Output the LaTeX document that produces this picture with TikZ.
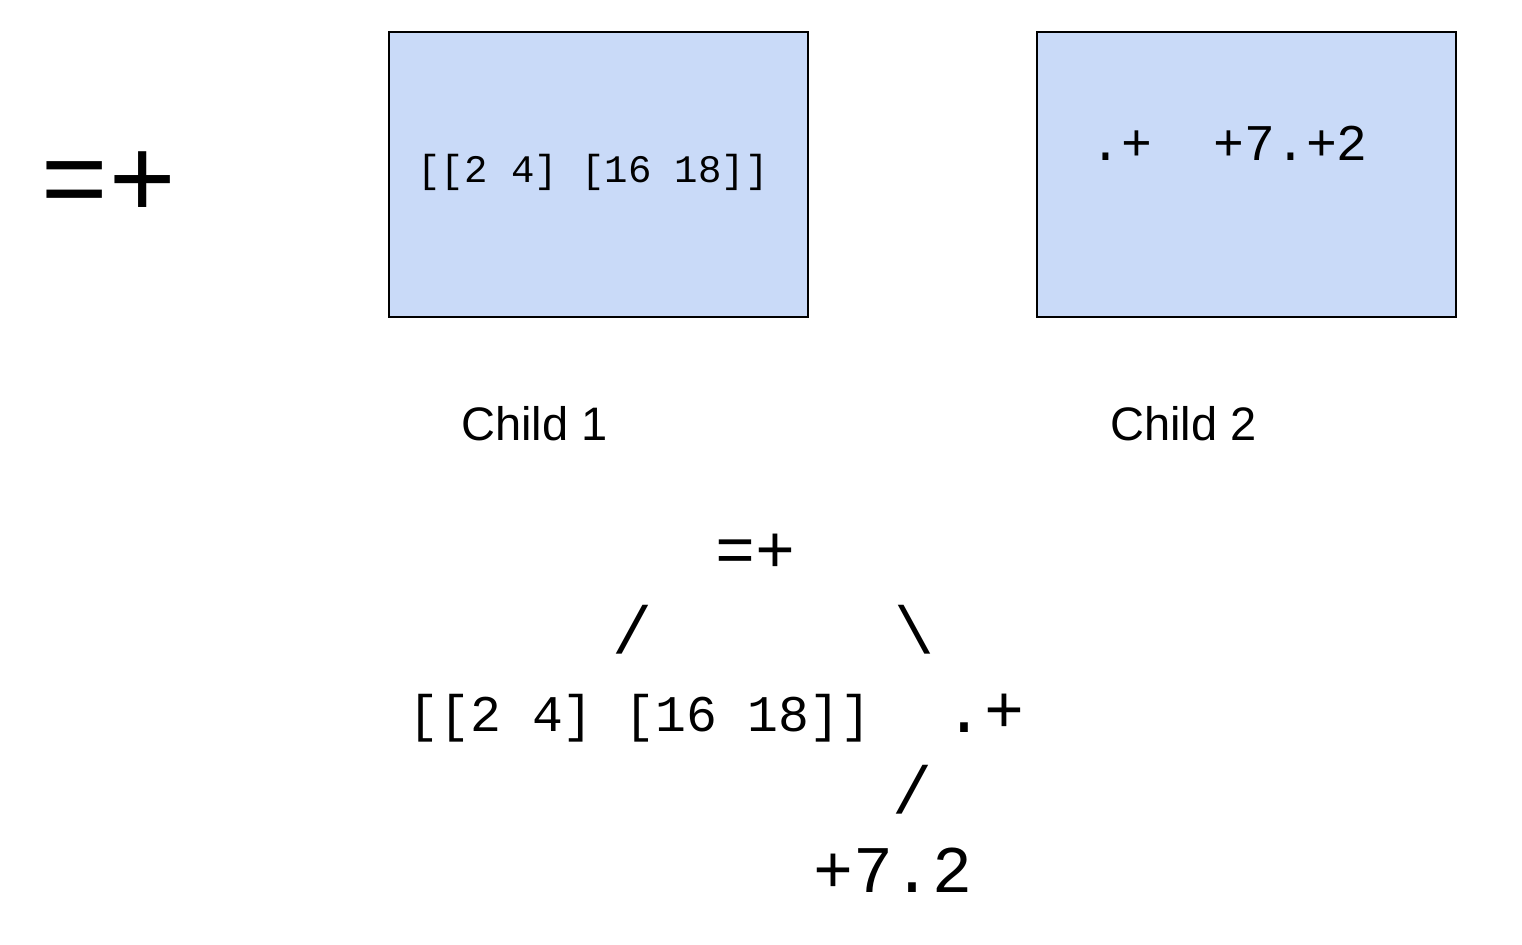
\documentclass[tikz,border=0pt]{standalone}
\usepackage{fontspec}
\setmainfont{Liberation Sans}
\newfontfamily\monofam{Liberation Mono}
\definecolor{boxfill}{HTML}{C9DAF8}
\tikzset{
  panel/.style={draw=black, line width=1pt, fill=boxfill, inner sep=0pt,
    minimum width=209.5pt, minimum height=142.5pt},
  txt/.style={inner sep=0pt, anchor=base},
  mono/.style={txt, font=\monofam\fontsize{#1}{#1}\selectfont},
  label/.style={txt, font=\fontsize{23.5}{28}\selectfont},
  slash/.style={inner sep=0pt, anchor=center, font=\monofam\fontsize{33.3}{36}\selectfont}
}
\begin{document}
\begin{tikzpicture}[x=0.5pt,y=-0.5pt]
\useasboundingbox[fill=white] (0,0) rectangle (1522,944);
% left symbol
\node[mono=57] (eqplus) at (108.5,217) {=+};
% panels
\node[panel] (box1) at (598.5,174.5) {};
\node[panel] (box2) at (1246.5,174.5) {};
\node[mono=19.5] (t1) at (593,182) {[[2 4] [16 18]]};
\node[mono=25.7] (t2) at (1229,160) {.+\ \ +7.+2};
% labels
\node[label] (c1) at (534.5,440) {Child 1};
\node[label] (c2) at (1183.5,440) {Child 2};
% tree
\node[mono=33.3] (root) at (755,572) {=+};
\node[slash] (s1) at (632,630) {/};
\node[slash] (s2) at (914,630) {\textbackslash};
\node[mono=25.7] (left) at (640,731) {[[2 4] [16 18]]};
\node[mono=33.3] (right) at (984,732) {.+};
\node[slash] (s3) at (912,790) {/};
\node[mono=33.3] (leaf) at (893,892) {+7.2};
\end{tikzpicture}
\end{document}
